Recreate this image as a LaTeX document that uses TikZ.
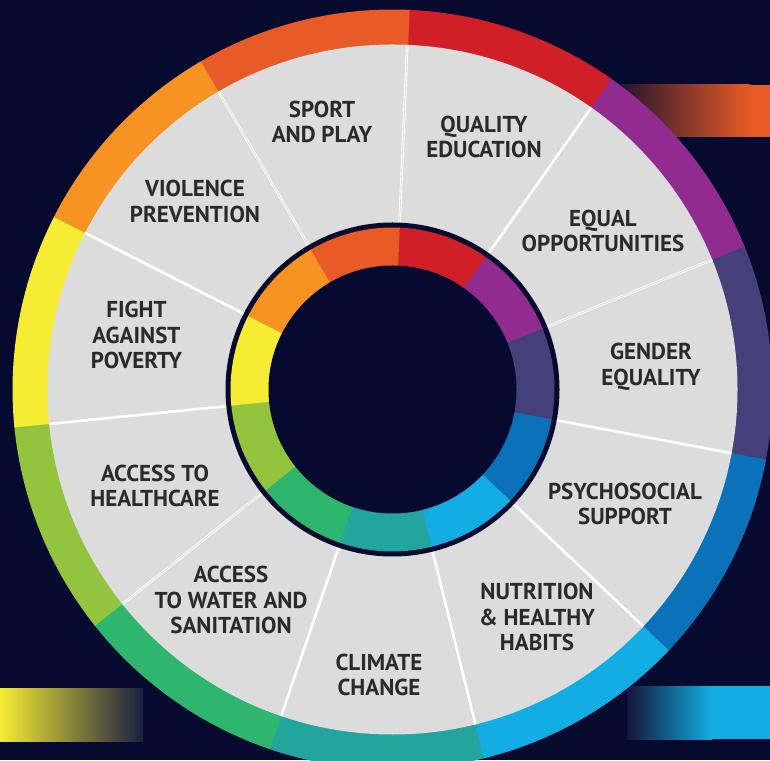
\documentclass[tikz,border=0pt]{standalone}
\usepackage{fontspec}
\newfontfamily\lblfont{PT Sans Bold}
\usetikzlibrary{calc}
\definecolor{bg}{HTML}{070A2F}
\definecolor{cGray}{HTML}{DCDCDC}
\definecolor{cText}{HTML}{2A2A2A}
\definecolor{cRed}{HTML}{D01F27}
\definecolor{cPurple}{HTML}{922B8F}
\definecolor{cSlate}{HTML}{46407A}
\definecolor{cBlue}{HTML}{0B72BA}
\definecolor{cLBlue}{HTML}{12AEE3}
\definecolor{cTeal}{HTML}{21A59C}
\definecolor{cGreen}{HTML}{2EB66E}
\definecolor{cYGreen}{HTML}{92C43E}
\definecolor{cYellow}{HTML}{F5EC33}
\definecolor{cOrange}{HTML}{F79323}
\definecolor{cDOrange}{HTML}{E85A26}
\tikzset{
  lbl/.style={align=center, inner sep=0pt, text=cText,
    font=\lblfont\fontsize{23}{25.5}\selectfont},
  sepline/.style={draw=white, line width=2.6pt},
  sepdouble/.style={draw=white, line width=0.9pt, double=cGray, double distance=0.8pt}
}
\begin{document}
\begin{tikzpicture}[x=1pt,y=1pt]
\useasboundingbox (0,0) rectangle (770,760);
\clip (0,0) rectangle (770,760);
\fill[bg] (0,0) rectangle (770,760);
% gradient bars
\shade[left color=bg, right color=cDOrange] (600,623) rectangle (750,675);
\fill[cDOrange] (749.5,623) rectangle (770,675);
\shade[left color=cYellow, right color=bg!92!white] (0,19) rectangle (143,72);
\shade[left color=bg!95!white, right color=cLBlue] (627,21) rectangle (712,74);
\fill[cLBlue] (711.5,21) rectangle (770,74);
% wheel
\coordinate (C) at (392.5,370.5);
\foreach \col [count=\k from 0] in {cRed,cPurple,cSlate,cBlue,cLBlue,cTeal,cGreen,cYGreen,cYellow,cOrange,cDOrange}{
  \pgfmathsetmacro\aS{87.55-\k*32.7273}
  \pgfmathsetmacro\aE{\aS-32.7273-0.15}
  \fill[\col] (C) -- ($(C)+(\aS:380)$) arc[start angle=\aS, end angle=\aE, radius=380] -- cycle;
}
\fill[cGray] (C) circle[radius=345];
\foreach \k in {1,3,4,5,6,8,9}{
  \pgfmathsetmacro\a{87.55-\k*32.7273}
  \draw[sepline] ($(C)+(\a:166)$) -- ($(C)+(\a:345)$);
}
\foreach \k in {0,2,7,10}{
  \pgfmathsetmacro\a{87.55-\k*32.7273}
  \draw[sepdouble] ($(C)+(\a:166)$) -- ($(C)+(\a:345)$);
}
\fill[bg] (C) circle[radius=167];
\foreach \col [count=\k from 0] in {cRed,cPurple,cSlate,cBlue,cLBlue,cTeal,cGreen,cYGreen,cYellow,cOrange,cDOrange}{
  \pgfmathsetmacro\aS{87.55-\k*32.7273}
  \pgfmathsetmacro\aE{\aS-32.7273-0.15}
  \fill[\col] (C) -- ($(C)+(\aS:162)$) arc[start angle=\aS, end angle=\aE, radius=162] -- cycle;
}
\fill[bg] (C) circle[radius=124];
% labels
\node[lbl] (sport) at (322,638) {SPORT\\AND PLAY};
\node[lbl] (edu) at (484,623) {QUALITY\\EDUCATION};
\node[lbl] (equal) at (603,529) {EQUAL\\OPPORTUNITIES};
\node[lbl] (gender) at (651,393) {GENDER\\EQUALITY};
\node[lbl] (psycho) at (625,256) {PSYCHOSOCIAL\\SUPPORT};
\node[lbl] (nutri) at (537,143) {NUTRITION\\\& HEALTHY\\HABITS};
\node[lbl] (climate) at (379,85) {CLIMATE\\CHANGE};
\node[lbl] (water) at (231,160) {ACCESS\\TO WATER AND\\SANITATION};
\node[lbl] (health) at (155,274) {ACCESS TO\\HEALTHCARE};
\node[lbl] (poverty) at (136.5,425) {FIGHT\\AGAINST\\POVERTY};
\node[lbl] (violence) at (195,558.5) {VIOLENCE\\PREVENTION};
\end{tikzpicture}
\end{document}
